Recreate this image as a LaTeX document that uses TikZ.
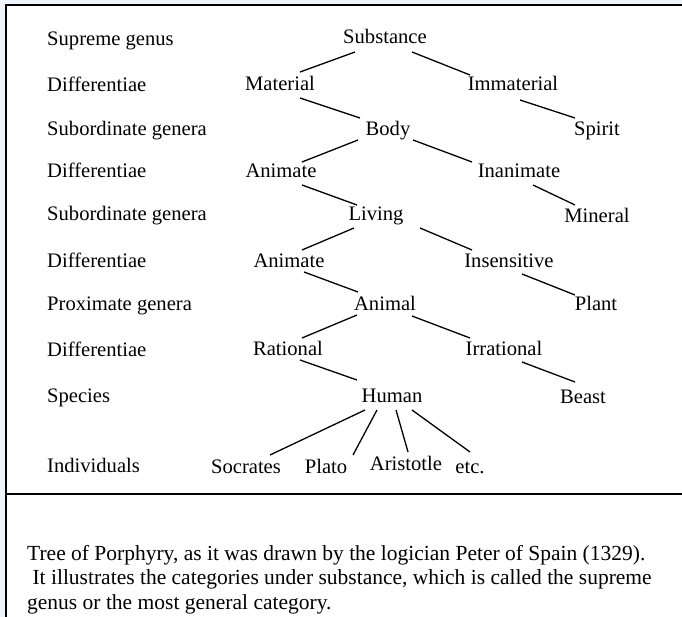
\documentclass[tikz,border=0pt]{standalone}
\usepackage{fontspec}
\setmainfont{Liberation Serif}
\usetikzlibrary{calc}
\definecolor{bgblue}{RGB}{238,244,251}
\begin{document}
\begin{tikzpicture}[x=1pt,y=-1pt,
  lbl/.style={anchor=base west, inner sep=0pt, font=\fontsize{20.6}{24}\selectfont},
  term/.style={anchor=base, inner sep=0pt, font=\fontsize{20.6}{24}\selectfont},
  edge/.style={draw=black, line width=1.3pt},
  frame/.style={draw=black, line width=1.6pt}]
\useasboundingbox (0,0) rectangle (682,617);
\fill[bgblue] (0,0) rectangle (682,617);
\fill[white] (6,5) rectangle (682,617);
\draw[frame] (682,5) -- (6,5) -- (6,617);
\draw[frame] (6,494) -- (682,494);

% level labels
\node[lbl] (L1) at (47,46) {Supreme genus};
\node[lbl] (L2) at (47,92) {Differentiae};
\node[lbl] (L3) at (47,136) {Subordinate genera};
\node[lbl] (L4) at (47,178) {Differentiae};
\node[lbl] (L5) at (47,221) {Subordinate genera};
\node[lbl] (L6) at (47,268) {Differentiae};
\node[lbl] (L7) at (47,310) {Proximate genera};
\node[lbl] (L8) at (47,356) {Differentiae};
\node[lbl] (L9) at (47,402) {Species};
\node[lbl] (L10) at (47,472) {Individuals};

% tree terms
\node[term] (sub) at (385,44) {Substance};
\node[term] (mat) at (280,91) {Material};
\node[term] (imm) at (513,91) {Immaterial};
\node[term] (body) at (388,136) {Body};
\node[term] (spi) at (597,136) {Spirit};
\node[term] (an1) at (281,178) {Animate};
\node[term] (inan) at (519,178) {Inanimate};
\node[term] (liv) at (376,221) {Living};
\node[term] (min) at (597,223) {Mineral};
\node[term] (an2) at (289,268) {Animate};
\node[term] (ins) at (509,268) {Insensitive};
\node[term] (anl) at (385,311) {Animal};
\node[term] (pla) at (596,311) {Plant};
\node[term] (rat) at (288,355) {Rational};
\node[term] (irr) at (504,355) {Irrational};
\node[term] (hum) at (392,402) {Human};
\node[term] (bea) at (583,403) {Beast};
\node[term] (soc) at (246,473) {Socrates};
\node[term] (plt) at (326,473) {Plato};
\node[term] (ari) at (406,470) {Aristotle};
\node[term] (etc) at (470,473) {etc.};

% connectors
\draw[edge] ($(sub.base)+(-30,8)$) -- ($(mat.base)+(20,-19)$);
\draw[edge] ($(sub.base)+(27,8)$) -- ($(imm.base)+(-43,-16)$);
\draw[edge] ($(mat.base)+(20,7)$) -- ($(body.base)+(-28,-18)$);
\draw[edge] ($(imm.base)+(7,9)$) -- ($(spi.base)+(-22,-18)$);
\draw[edge] ($(body.base)+(-30,4)$) -- ($(an1.base)+(21,-16)$);
\draw[edge] ($(body.base)+(25,4)$) -- ($(inan.base)+(-47,-16)$);
\draw[edge] ($(an1.base)+(21,7)$) -- ($(liv.base)+(-19,-16)$);
\draw[edge] ($(inan.base)+(14,7)$) -- ($(min.base)+(-22,-18)$);
\draw[edge] ($(liv.base)+(-22,7)$) -- ($(an2.base)+(13,-18)$);
\draw[edge] ($(liv.base)+(44,7)$) -- ($(ins.base)+(-37,-18)$);
\draw[edge] ($(an2.base)+(15,4)$) -- ($(anl.base)+(-27,-19)$);
\draw[edge] ($(ins.base)+(13,6)$) -- ($(pla.base)+(-21,-16)$);
\draw[edge] ($(anl.base)+(-28,4)$) -- ($(rat.base)+(14,-17)$);
\draw[edge] ($(anl.base)+(27,5)$) -- ($(irr.base)+(-34,-17)$);
\draw[edge] ($(rat.base)+(12,5)$) -- ($(hum.base)+(-35,-22)$);
\draw[edge] ($(irr.base)+(18,7)$) -- ($(bea.base)+(-8,-21)$);
\draw[edge] ($(hum.base)+(-27,8)$) -- ($(soc.base)+(24,-18)$);
\draw[edge] ($(hum.base)+(-15,8)$) -- ($(plt.base)+(27,-18)$);
\draw[edge] ($(hum.base)+(4,8)$) -- ($(ari.base)+(2,-18)$);
\draw[edge] ($(hum.base)+(20,8)$) -- ($(etc.base)+(0,-21)$);

% caption
\node[anchor=north west, inner sep=0pt, align=left,
      font=\fontsize{21.5}{24.5}\selectfont] (cap) at (27,545)
  {Tree of Porphyry, as it was drawn by the logician Peter of Spain (1329).\\
   \hspace*{0.25em}It illustrates the categories under substance, which is called the supreme\\
   genus or the most general category.};
\end{tikzpicture}
\end{document}
